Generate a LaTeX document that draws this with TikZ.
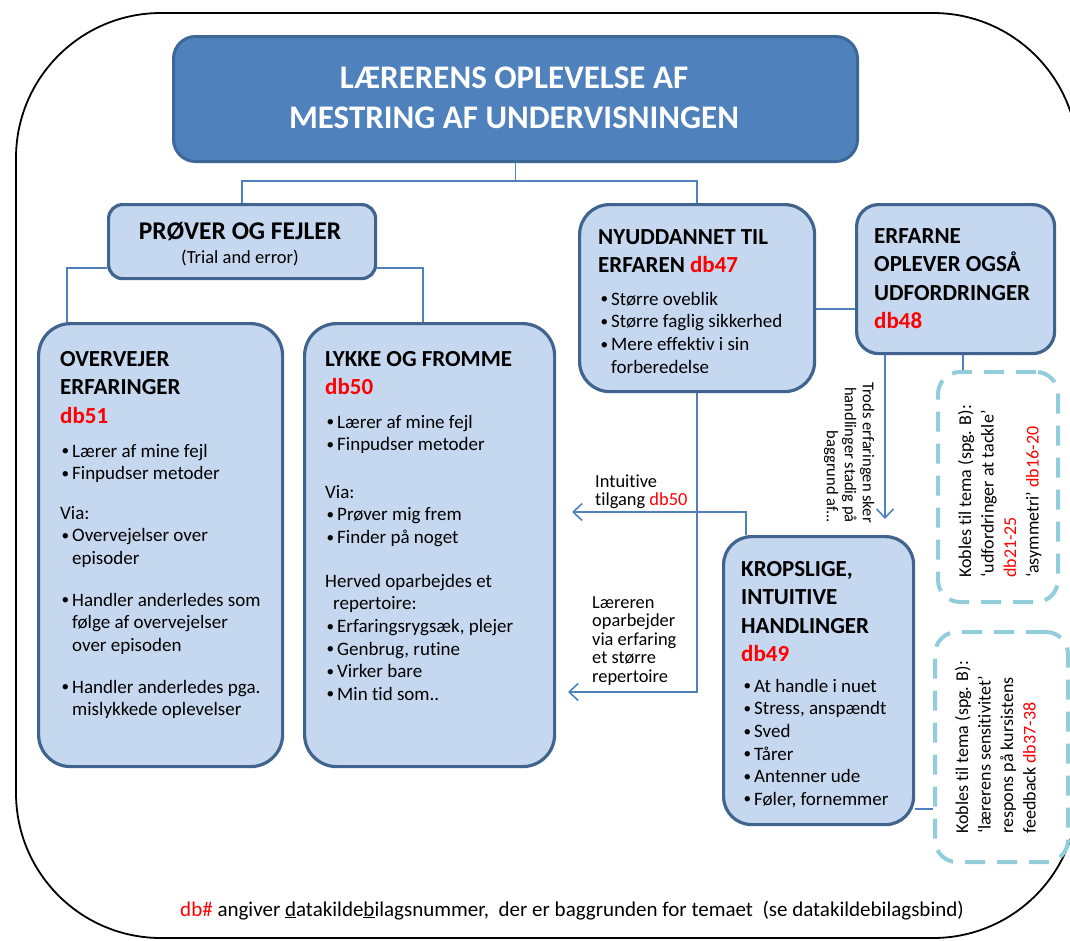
\documentclass[tikz,border=0pt]{standalone}
\usepackage{fontspec}
\setmainfont[Ligatures=NoCommon]{Carlito}
\usetikzlibrary{arrows.meta,calc}

\definecolor{titleblue}{HTML}{4F81BD}
\definecolor{titleedge}{HTML}{3D6796}
\definecolor{boxfill}{HTML}{C6D8EF}
\definecolor{boxedge}{HTML}{41648F}
\definecolor{linkblue}{HTML}{4F81BD}
\definecolor{dashblue}{HTML}{92CDDC}
\definecolor{dbred}{HTML}{FF0000}

\newcommand{\db}[1]{\textcolor{dbred}{#1}}
\newcommand{\bul}{\makebox[12pt][l]{\hspace{1.5pt}\raisebox{1.3pt}{\scalebox{0.8}{\textbullet}}}}
\newcommand{\ind}{\hspace*{12pt}}
% struts that fix the first baseline below the top of a text block
\newcommand{\HS}{\rule{0pt}{22pt}}
\newcommand{\BS}{\rule{0pt}{17pt}}

\tikzset{
  lbox/.style={draw=boxedge, line width=3.2pt, fill=boxfill, rounded corners=#1,
    inner sep=0pt, anchor=north west},
  lbox/.default=28pt,
  dbox/.style={draw=dashblue, line width=4pt, dash pattern=on 20pt off 12pt,
    rounded corners=22pt, inner sep=0pt, anchor=north west},
  head/.style={font=\fontsize{23}{28.5}\selectfont\bfseries, align=left,
    anchor=north west, yshift=22pt, inner sep=0pt},
  body/.style={font=\fontsize{19}{22.6}\selectfont, align=left,
    anchor=north west, yshift=17pt, inner sep=0pt},
  lbl/.style={font=\fontsize{18.4}{18.5}\selectfont, align=left,
    anchor=north west, yshift=17pt, inner sep=0pt},
  side/.style={font=\fontsize{18}{22.5}\selectfont, align=left,
    rotate=90, anchor=north west, inner sep=0pt},
  conn/.style={draw=linkblue, line width=1.6pt},
  arrowL/.style={-{Straight Barb[length=9pt,width=17pt]}},
}

\begin{document}
\begin{tikzpicture}[x=1pt,y=-1pt]
\useasboundingbox (0,0) rectangle (1070,940);

% outer frame
\draw[black, line width=1.8pt, rounded corners=145pt] (16,13) rectangle (1078,938);

% boxes
\node[draw=titleedge, line width=3pt, fill=titleblue, rounded corners=22pt,
  inner sep=0pt, anchor=north west, minimum width=684pt, minimum height=125pt]
  (title) at (172,35) {};
\node[lbox=14pt, minimum width=267pt, minimum height=74pt]  (pf)    at (107,203) {};
\node[lbox=32pt, minimum width=244pt, minimum height=443pt] (overv) at (37,322) {};
\node[lbox=32pt, minimum width=250pt, minimum height=443pt] (lykke) at (303,322) {};
\node[lbox=30pt, minimum width=235pt, minimum height=187pt] (nyud)  at (578,203) {};
\node[lbox=22pt, minimum width=198pt, minimum height=149pt] (erf)   at (855,203) {};
\node[lbox=28pt, minimum width=190pt, minimum height=288pt] (krop)  at (722,535) {};
\node[dbox, minimum width=120pt, minimum height=230pt] (dashA) at (936,370) {};
\node[dbox, minimum width=133pt, minimum height=230pt] (dashB) at (933,630) {};

% free ends of the arrows
\coordinate (tipK) at (885,519);
\coordinate (tipL) at (568,692);
\coordinate (tipI) at (572,512);

% connectors
\draw[conn] (title.south) -- ++(0,18) -| (pf.north);
\draw[conn] (title.south) -- ++(0,18) -| (nyud.north);
\draw[conn] ([yshift=12pt]pf.south west) -| ([xshift=30pt]overv.north west);
\draw[conn] ([yshift=12pt]pf.south east) -| ([xshift=120pt]lykke.north west);
\draw[conn] ([yshift=-30pt]erf.west) -- ([yshift=-30pt]erf.west -| nyud.east);
\draw[conn,arrowL] ([xshift=30pt]erf.south west) -- (tipK);
\draw[conn] ([xshift=108pt]erf.south west) -- ([xshift=108pt]erf.south west |- dashA.north);
\draw[conn,arrowL] (nyud.south) |- (tipL);
\draw[conn,arrowL] ([xshift=24pt]krop.north west) |- (tipI);
\draw[conn] ([yshift=17pt]krop.south east) -- ([yshift=17pt]krop.south east -| dashB.west);

% title
\node[font=\fontsize{33}{40}\selectfont\bfseries, text=white, align=center, inner sep=0pt]
  (titletxt) at (514,98) {LÆRERENS OPLEVELSE AF\\MESTRING AF UNDERVISNINGEN};

% Prøver og fejler
\node[font=\fontsize{25.5}{28}\selectfont\bfseries, anchor=base, inner sep=0pt]
  (pfhead) at (240,239) {PRØVER OG FEJLER};
\node[font=\fontsize{18.5}{20}\selectfont, anchor=base, inner sep=0pt]
  (pfsub) at (240,263) {(Trial and error)};

% Overvejer erfaringer
\node[head] (ovh) at (60,366) {\HS OVERVEJER\\ERFARINGER\\\db{db51}};
\node[body] (ov1) at (60,457) {\BS\bul Lærer af mine fejl\\\bul Finpudser metoder};
\node[body] (ov2) at (60,519) {\BS Via:\\\bul Overvejelser over\\\ind episoder};
\node[body] (ov3) at (60,606) {\BS\bul Handler anderledes som\\\ind følge af overvejelser\\\ind over episoden};
\node[body] (ov4) at (60,693) {\BS\bul Handler anderledes pga.\\\ind mislykkede oplevelser};

% Lykke og fromme
\node[head] (lyh) at (325,366) {\HS LYKKE OG FROMME\\\db{db50}};
\node[body] (ly1) at (325,428) {\BS\bul Lærer af mine fejl\\\bul Finpudser metoder};
\node[body] (ly2) at (325,498) {\BS Via:\\\bul Prøver mig frem\\\bul Finder på noget};
\node[body] (ly3) at (325,587) {\BS Herved oparbejdes et\\\hspace*{8pt}repertoire:\\\bul Erfaringsrygsæk, plejer\\\bul Genbrug, rutine\\\bul Virker bare\\\bul Min tid som..};

% Nyuddannet til erfaren
\node[head] (nyh) at (598,244) {\HS NYUDDANNET TIL\\ERFAREN \db{db47}};
\node[body] (ny1) at (599,305) {\BS\bul Større oveblik\\\bul Større faglig sikkerhed\\\bul Mere effektiv i sin\\\ind forberedelse};

% Erfarne oplever også udfordringer
\node[head] (erh) at (874,243) {\HS ERFARNE\\OPLEVER OGSÅ\\UDFORDRINGER\\\db{db48}};

% Kropslige, intuitive handlinger
\node[head] (krh) at (741,576) {\HS KROPSLIGE,\\INTUITIVE\\HANDLINGER\\\db{db49}};
\node[body] (kr1) at (742,692) {\BS\bul At handle i nuet\\\bul Stress, anspændt\\\bul Sved\\\bul Tårer\\\bul Antenner ude\\\bul Føler, fornemmer};

% arrow labels
\node[lbl] (lintu) at (595,487) {\BS Intuitive\\tilgang \db{db50}};
\node[lbl] (lrep) at (592,608) {\BS Læreren\\oparbejder\\via erfaring\\et større\\repertoire};
\node[font=\fontsize{16.5}{18}\selectfont, align=right, rotate=-90, anchor=north east, inner sep=0pt]
  (ltrods) at (879,523) {\rule{0pt}{16pt}Trods erfaringen sker\\handlinger stadig på\\baggrund af...};

% theme links
\node[side] (sa) at (954,578) {\BS Kobles til tema (spg. B):\\‘udfordringer at tackle’\\\db{db21-25}\\‘asymmetri’ \db{db16-20}};
\node[side] (sb) at (951,834) {\BS Kobles til tema (spg. B):\\‘lærerens sensitivitet’\\respons på kursistens\\feedback \db{db37-38}};

% footnote
\node[font=\fontsize{21}{24}\selectfont, anchor=base, inner sep=0pt] (note) at (572,916)
  {\db{db\#} angiver \underline{d}atakilde\underline{b}ilagsnummer,\ \ der er baggrunden for temaet\ \ (se datakildebilagsbind)};
\end{tikzpicture}
\end{document}
